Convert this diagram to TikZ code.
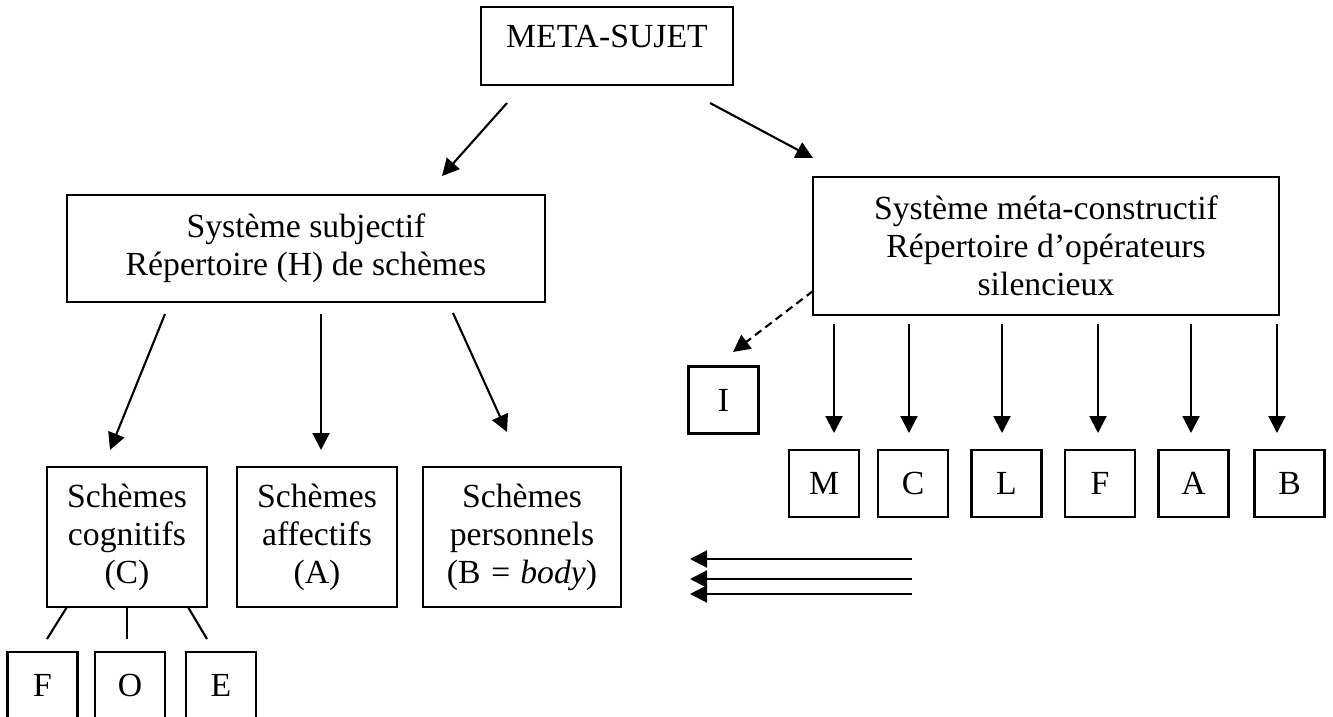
\documentclass[tikz,border=0pt]{standalone}
\usepackage{fontspec}
\setmainfont{Liberation Serif}
\usetikzlibrary{arrows.meta}

\begin{document}
\begin{tikzpicture}[x=0.02cm, y=-0.02cm,
    box/.style={draw, line width=1.3pt, inner sep=0pt, align=center, font=\fontsize{19.2pt}{21.6pt}\selectfont},
    sbox/.style={box, minimum width=1.4cm, minimum height=1.34cm},
    arr/.style={line width=1.2pt, -{Triangle[length=0.34cm, width=0.34cm]}}]
            \useasboundingbox (0,0) rectangle (1333,717);
            \clip (0,0) rectangle (1333,717);

            % top
            \node[box, minimum width=5.04cm, minimum height=1.56cm, text height=0.44cm, text depth=0.4cm] (ms) at (607,46) {META-SUJET};

            % the two systems
            \node[box, minimum width=9.56cm, minimum height=2.14cm] (subj) at (306,248.5) {Système subjectif\\Répertoire (H) de schèmes};
            \node[box, minimum width=9.32cm, minimum height=2.76cm] (meta) at (1046,246) {Système méta-constructif\\Répertoire d’opérateurs\\silencieux};

            % schemes
            \node[box, minimum width=3.2cm, minimum height=2.8cm] (cog) at (127,537) {Schèmes\\cognitifs\\(C)};
            \node[box, minimum width=3.2cm, minimum height=2.8cm] (aff) at (317,537) {Schèmes\\affectifs\\(A)};
            \node[box, minimum width=3.96cm, minimum height=2.8cm] (pers) at (522,537) {Schèmes\\personnels\\(B \textit{= body})};

            \node[sbox] (f1) at (42.5,685.5) {F};
            \node[sbox] (o1) at (130,685.5) {O};
            \node[sbox] (e1) at (221,685.5) {E};

            % operators
            \node[sbox] (i) at (723.5,400) {I};
            \node[sbox] (m) at (824,483.5) {M};
            \node[sbox] (c) at (913,483.5) {C};
            \node[sbox] (l) at (1006.5,483.5) {L};
            \node[sbox] (f) at (1100,483.5) {F};
            \node[sbox] (a) at (1193.5,483.5) {A};
            \node[sbox] (b) at (1289.5,483.5) {B};

            % arrow ends
            \coordinate (ms-l) at (507,103);
            \coordinate (ms-r) at (710,103);
            \coordinate (subj-in) at (442,176);
            \coordinate (meta-in) at (813,158);
            \coordinate (subj-1) at (165,314);
            \coordinate (subj-2) at (321,314);
            \coordinate (subj-3) at (453,313);
            \coordinate (cog-in) at (110,450);
            \coordinate (aff-in) at (321,450);
            \coordinate (pers-in) at (507,432);
            \coordinate (meta-d) at (813,291);
            \coordinate (i-in) at (733,352);

            \draw[arr] (ms-l) -- (subj-in);
            \draw[arr] (ms-r) -- (meta-in);
            \draw[arr] (subj-1) -- (cog-in);
            \draw[arr] (subj-2) -- (aff-in);
            \draw[arr] (subj-3) -- (pers-in);
            \draw[arr, dash pattern=on 0.16cm off 0.1cm] (meta-d) -- (i-in);

            % six operator arrows
            \foreach \n/\x in {m/834, c/909, l/1002, f/1098, a/1191, b/1277} {
                \coordinate (\n-top) at (\x,324);
                \coordinate (\n-tip) at (\x,433);
                \draw[arr] (\n-top) -- (\n-tip);
            }

            % cognitive branches
            \coordinate (f1-top) at (47,639);
            \coordinate (o1-top) at (127,639);
            \coordinate (e1-top) at (207,639);
            \draw[line width=1.2pt] (67,607) -- (f1-top);
            \draw[line width=1.2pt] (cog.south) -- (o1-top);
            \draw[line width=1.2pt] (188,607) -- (e1-top);

            % triple arrows
            \foreach \k/\y in {1/559, 2/579, 3/594} {
                \coordinate (t\k-r) at (912,\y);
                \coordinate (t\k-l) at (690,\y);
                \draw[arr] (t\k-r) -- (t\k-l);
            }
        \end{tikzpicture}
\end{document}
